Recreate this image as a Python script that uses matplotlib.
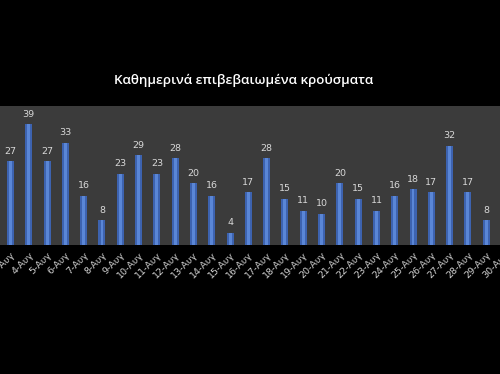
import matplotlib.pyplot as plt

# daily confirmed cases, August
days = [f"{d}-Αυγ" for d in range(3, 31)]
cases = [27, 39, 27, 33, 16, 8, 23, 29, 23, 28, 20, 16, 4, 17,
         28, 15, 11, 10, 20, 15, 11, 16, 18, 17, 32, 17, 8]
title = "Καθημερινά επιβεβαιωμένα κρούσματα"

fig = plt.figure(figsize=(5, 3.74), dpi=100, facecolor="black")
ax = fig.add_axes([-0.001, 0.345, 1.032, 0.372])
ax.set_facecolor("#3b3b3b")

x = list(range(len(cases)))
ax.bar(x, cases, width=0.38, color="#3d63b0", zorder=2)
ax.bar(x, cases, width=0.16, color="#5a86d6", zorder=3)

for xi, v in zip(x, cases):
    ax.annotate(str(v), (xi, v), xytext=(0, 4), textcoords="offset points",
                ha="center", va="bottom", fontsize=6.8, color="#d8d8d8")

ax.set_xlim(-0.6, 27.6)
ax.set_ylim(0, 45)
ax.set_xticks(range(len(days)))
ax.set_xticklabels(days, rotation=45, ha="right", rotation_mode="anchor",
                   fontsize=6.8, color="#d0d0d0")
ax.tick_params(axis="x", length=0, pad=4)
ax.set_yticks([])
for s in ax.spines.values():
    s.set_visible(False)

fig.text(0.488, 0.785, title, ha="center", va="center", fontsize=9.6,
         color="white", fontweight="semibold", family="Open Sans")

fig.savefig("out.png", dpi=100, facecolor="black")
